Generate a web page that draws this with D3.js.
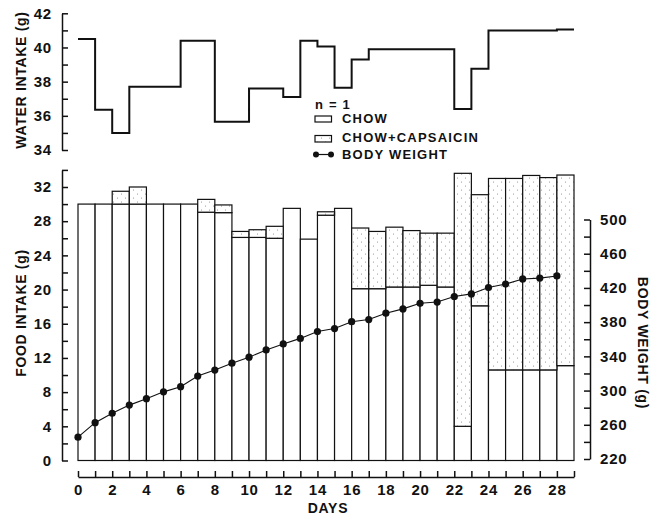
<!DOCTYPE html>
<html>
<head>
<meta charset="utf-8">
<script src="https://cdn.jsdelivr.net/npm/d3@7"></script>
<style>
  html, body { margin: 0; padding: 0; background: #fff; }
  svg { display: block; }
  text { font-family: "Liberation Sans", Arial, Helvetica, sans-serif; font-weight: bold; fill: #111; }
</style>
</head>
<body>
<svg id="chart" width="659" height="516"></svg>
<script>
// ---- data ----
const days = d3.range(0, 29);
const chow = [30, 30, 30, 30, 30, 30, 30, 29.05, 29.0, 26.1, 26.1, 26.0, 29.5, 25.9, 28.7,
              29.5, 20.1, 20.1, 20.3, 20.3, 20.5, 20.3, 4.0, 18.1, 10.6, 10.6, 10.6, 10.6, 11.1];
const capsaicin = [0, 0, 1.5, 2.0, 0, 0, 0, 1.5, 0.9, 0.7, 0.9, 1.4, 0, 0, 0.4,
                   0, 7.1, 6.7, 7.0, 6.6, 6.1, 6.3, 29.6, 13.0, 22.4, 22.4, 22.75, 22.5, 22.3];
const water = [40.5, 36.35, 35.0, 37.7, 37.7, 37.7, 40.4, 40.4, 35.65, 35.65, 37.6, 37.6, 37.1, 40.4, 40.05,
               37.65, 39.3, 39.9, 39.9, 39.9, 39.9, 39.9, 36.4, 38.75, 41.0, 41.0, 41.0, 41.0, 41.05];
const bodyWeight = [245.5, 262.5, 273.5, 283, 290.5, 298.5, 304.5, 317, 324, 332, 339, 347.5, 354.5, 361, 369,
                    372.5, 380.5, 383, 390.5, 395.5, 402, 403.5, 410, 413, 420.5, 424.5, 430.5, 431.5, 434];
const waterTicks = [34, 35, 36, 37, 38, 39, 40, 41, 42];
const foodTicks = d3.range(0, 35, 2);
const bwTicks = d3.range(220, 501, 20);
const dayTicks = d3.range(0, 30);

// ---- layout ----
const svg = d3.select("#chart");
const x = d3.scaleLinear().domain([0, 29]).range([78, 574]);
const yW = d3.scaleLinear().domain([34, 42]).range([150, 13.3]);
const yF = d3.scaleLinear().domain([0, 34]).range([460.5, 169.9]);
const yB = d3.scaleLinear().domain([220, 500]).range([459, 219.5]);

const defs = svg.append("defs");
const pat = defs.append("pattern").attr("id", "dots").attr("patternUnits", "userSpaceOnUse")
  .attr("width", 8).attr("height", 8);
pat.append("rect").attr("width", 8).attr("height", 8).attr("fill", "#fff");
pat.append("circle").attr("cx", 1.5).attr("cy", 2).attr("r", 0.55).attr("fill", "#888");
pat.append("circle").attr("cx", 5.5).attr("cy", 6).attr("r", 0.55).attr("fill", "#888");

function styleAxis(g, size) {
  g.select(".domain").attr("stroke", "#111").attr("stroke-width", 1.5);
  g.selectAll(".tick line").attr("stroke", "#111").attr("stroke-width", 1.5);
  g.selectAll(".tick text").attr("font-size", size).attr("fill", "#111")
    .attr("font-weight", "bold").attr("letter-spacing", "0.8px")
    .attr("font-family", '"Liberation Sans", Arial, sans-serif');
}

// ---- water intake panel ----
const gW = svg.append("g").attr("transform", "translate(62,0)")
  .call(d3.axisLeft(yW).tickValues(waterTicks).tickSizeInner(-6).tickSizeOuter(0).tickPadding(10)
    .tickFormat(d => d % 2 === 0 ? d : ""));
styleAxis(gW, 15);

const waterPts = days.map(d => [d, water[d]]).concat([[29, water[28]]]);
svg.append("path")
  .attr("d", d3.line().x(p => x(p[0])).y(p => yW(p[1])).curve(d3.curveStepAfter)(waterPts))
  .attr("fill", "none").attr("stroke", "#111").attr("stroke-width", 2);

svg.append("text").attr("transform", "translate(26,80) rotate(-90)")
  .attr("text-anchor", "middle").attr("font-size", 14).attr("letter-spacing", "0.7px")
  .text("WATER INTAKE (g)");

// ---- food intake bars ----
const bars = svg.append("g");
bars.selectAll("rect.chow").data(days).join("rect").attr("class", "chow")
  .attr("x", d => x(d)).attr("width", d => x(d + 1) - x(d))
  .attr("y", d => yF(chow[d])).attr("height", d => yF(0) - yF(chow[d]))
  .attr("fill", "#fff").attr("stroke", "#111").attr("stroke-width", 1.2);
bars.selectAll("rect.caps").data(days.filter(d => capsaicin[d] > 0)).join("rect").attr("class", "caps")
  .attr("x", d => x(d)).attr("width", d => x(d + 1) - x(d))
  .attr("y", d => yF(chow[d] + capsaicin[d])).attr("height", d => yF(chow[d]) - yF(chow[d] + capsaicin[d]))
  .attr("fill", "url(#dots)").attr("stroke", "#111").attr("stroke-width", 1.2);

// ---- body weight ----
svg.append("path")
  .attr("d", d3.line().x(d => x(d)).y(d => yB(bodyWeight[d]))(days))
  .attr("fill", "none").attr("stroke", "#111").attr("stroke-width", 1.1);
svg.append("g").selectAll("circle").data(days).join("circle")
  .attr("cx", d => x(d)).attr("cy", d => yB(bodyWeight[d])).attr("r", 3.6).attr("fill", "#111");

// ---- axes ----
const gF = svg.append("g").attr("transform", "translate(62,0)")
  .call(d3.axisLeft(yF).tickValues(foodTicks).tickSizeInner(-6).tickSizeOuter(0).tickPadding(10)
    .tickFormat(d => d % 4 === 0 && d <= 32 ? d : ""));
styleAxis(gF, 15);

const gB = svg.append("g").attr("transform", "translate(590,0)")
  .call(d3.axisRight(yB).tickValues(bwTicks).tickSizeInner(-6).tickSizeOuter(0).tickPadding(10)
    .tickFormat(d => (d - 220) % 40 === 0 ? d : ""));
styleAxis(gB, 15);

const gX = svg.append("g").attr("transform", "translate(0,477)")
  .call(d3.axisBottom(x).tickValues(dayTicks).tickSizeInner(-6).tickSizeOuter(0).tickPadding(7)
    .tickFormat(d => d % 2 === 0 && d <= 28 ? d : ""));
styleAxis(gX, 15);

svg.append("text").attr("transform", "translate(26,313) rotate(-90)")
  .attr("text-anchor", "middle").attr("font-size", 14).attr("letter-spacing", "0.7px")
  .text("FOOD INTAKE (g)");
svg.append("text").attr("transform", "translate(638,343) rotate(90)")
  .attr("text-anchor", "middle").attr("font-size", 14).attr("letter-spacing", "0.7px")
  .text("BODY WEIGHT (g)");
svg.append("text").attr("x", 328).attr("y", 512.5)
  .attr("text-anchor", "middle").attr("font-size", 14).attr("letter-spacing", "0.7px")
  .text("DAYS");

// ---- legend ----
const lg = svg.append("g").attr("font-size", 13);
lg.append("text").attr("x", 315).attr("y", 108.5).attr("font-size", 13).attr("letter-spacing", "1.2px").text("n = 1");
lg.append("rect").attr("x", 315).attr("y", 116).attr("width", 16.5).attr("height", 6)
  .attr("fill", "#fff").attr("stroke", "#111").attr("stroke-width", 1.2);
lg.append("text").attr("x", 342).attr("y", 123.3).attr("letter-spacing", "1.2px").text("CHOW");
lg.append("rect").attr("x", 315).attr("y", 135.5).attr("width", 16.5).attr("height", 6.5)
  .attr("fill", "url(#dots)").attr("stroke", "#111").attr("stroke-width", 1.2);
lg.append("text").attr("x", 342).attr("y", 142).attr("letter-spacing", "1.2px").text("CHOW+CAPSAICIN");
lg.append("line").attr("x1", 316).attr("x2", 331).attr("y1", 154.5).attr("y2", 154.5)
  .attr("stroke", "#111").attr("stroke-width", 1.2);
lg.append("circle").attr("cx", 316).attr("cy", 154.5).attr("r", 3).attr("fill", "#111");
lg.append("circle").attr("cx", 331).attr("cy", 154.5).attr("r", 3).attr("fill", "#111");
lg.append("text").attr("x", 342).attr("y", 158.5).attr("letter-spacing", "1.2px").text("BODY WEIGHT");
</script>
</body>
</html>
